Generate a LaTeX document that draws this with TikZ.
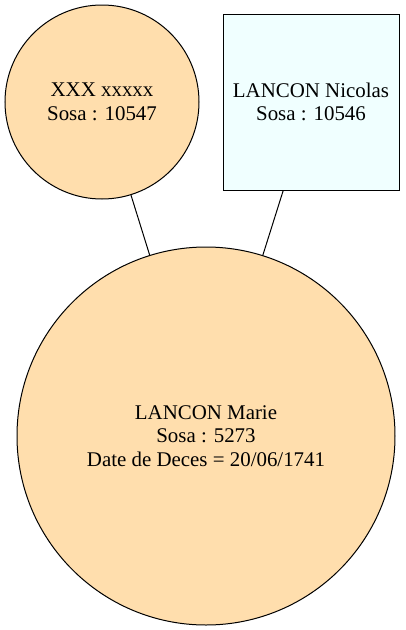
\documentclass[tikz,border=0pt]{standalone}
\usepackage{fontspec}
\setmainfont{Liberation Serif}
\definecolor{femme}{HTML}{FFDEAD}
\definecolor{homme}{HTML}{F0FFFF}
\tikzset{
    personne/.style={draw, line width=1pt, inner sep=0pt, align=center,
        font=\fontsize{20.9}{23.5}\selectfont},
    femme/.style={personne, circle, fill=femme},
    homme/.style={personne, rectangle, fill=homme}
}
\begin{document}
\begin{tikzpicture}[x=1pt,y=-1pt]
        \useasboundingbox (0,0) rectangle (405,630);
        \node [femme, minimum size=194pt] (sosa10547) at (102,102) {XXX xxxxx\\Sosa : 10547};
        \node [homme, minimum width=176pt, minimum height=176pt] (sosa10546) at (311,102) {LANCON Nicolas\\Sosa : 10546};
        \node [femme, minimum size=378pt] (sosa5273) at (206,436) {LANCON Marie\\Sosa : 5273\\Date de Deces = 20/06/1741};
        \draw [line width=1pt] (sosa10547) -- (sosa5273);
        \draw [line width=1pt] (sosa10546) -- (sosa5273);
    \end{tikzpicture}
\end{document}
